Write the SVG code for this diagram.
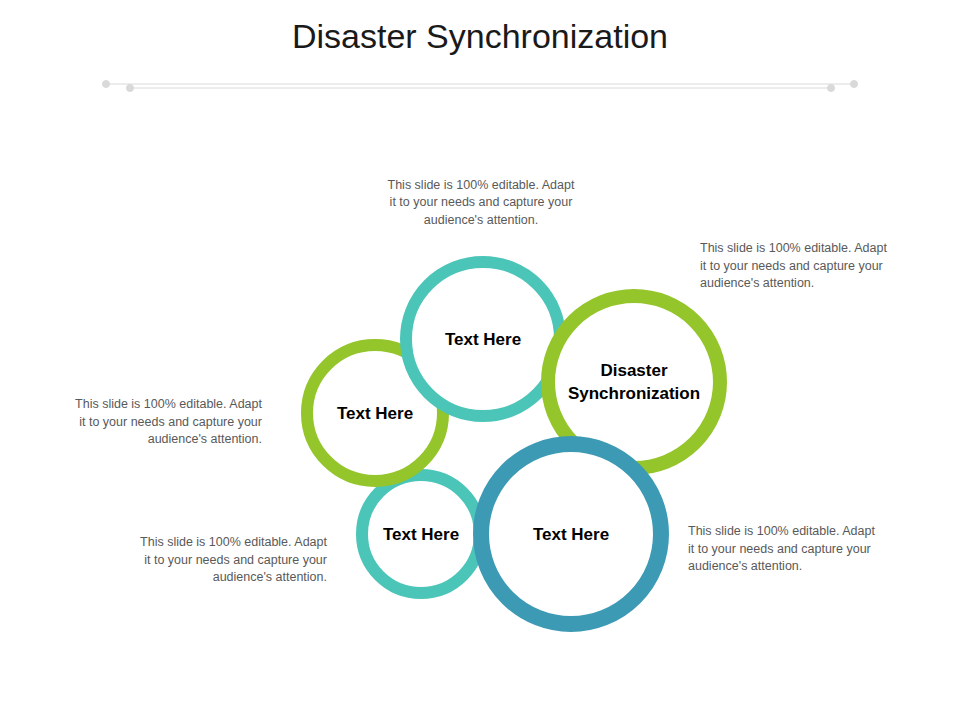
<svg xmlns="http://www.w3.org/2000/svg" width="960" height="720" viewBox="0 0 960 720">
<style>
.t{font-family:"Liberation Sans",Arial,sans-serif}
.d{font-size:12.5px;fill:#595959}
.l{font-size:17px;font-weight:bold;fill:#000;text-anchor:middle}
.c{fill:#fff}
</style>
<rect width="960" height="720" fill="#fff"/>
<text class="t" x="480" y="48" font-size="34" text-anchor="middle" fill="#1a1a1a">Disaster Synchronization</text>
<g fill="#d9d9d9" stroke="#d9d9d9">
<line x1="106" y1="84" x2="854" y2="84" stroke-width="1.2"/>
<line x1="130" y1="88" x2="831" y2="88" stroke-width="1.2"/>
<circle cx="106" cy="84" r="3.5"/><circle cx="130" cy="88" r="3.5"/>
<circle cx="831" cy="88" r="3.5"/><circle cx="854" cy="84" r="3.5"/>
</g>
<g id="n4"><circle class="c" cx="421" cy="534" r="59" stroke="#4BC5B8" stroke-width="12"/><text class="t l" x="421" y="540">Text Here</text></g>
<g id="n2"><circle class="c" cx="375" cy="413" r="68" stroke="#94C52A" stroke-width="12"/><text class="t l" x="375" y="419">Text Here</text></g>
<g id="n1"><circle class="c" cx="483" cy="339" r="77" stroke="#4BC5B8" stroke-width="12"/><text class="t l" x="483" y="345">Text Here</text></g>
<g id="n3"><circle class="c" cx="634" cy="382" r="86" stroke="#94C52A" stroke-width="14"/><text class="t l" x="634" y="376">Disaster</text><text class="t l" x="634" y="399">Synchronization</text></g>
<g id="n5"><circle class="c" cx="571" cy="534" r="90" stroke="#3D9AB5" stroke-width="16"/><text class="t l" x="571" y="540">Text Here</text></g>
<g id="connectors"/>
<g class="t d" text-anchor="middle">
<text x="481" y="189">This slide is 100% editable. Adapt</text>
<text x="481" y="206">it to your needs and capture your</text>
<text x="481" y="224">audience's attention.</text>
</g>
<g class="t d">
<text x="700" y="252">This slide is 100% editable. Adapt</text>
<text x="700" y="270">it to your needs and capture your</text>
<text x="700" y="287">audience's attention.</text>
<text x="688" y="535">This slide is 100% editable. Adapt</text>
<text x="688" y="553">it to your needs and capture your</text>
<text x="688" y="570">audience's attention.</text>
</g>
<g class="t d" text-anchor="end">
<text x="262" y="408">This slide is 100% editable. Adapt</text>
<text x="262" y="426">it to your needs and capture your</text>
<text x="262" y="443">audience's attention.</text>
<text x="327" y="546">This slide is 100% editable. Adapt</text>
<text x="327" y="564">it to your needs and capture your</text>
<text x="327" y="581">audience's attention.</text>
</g>
</svg>
